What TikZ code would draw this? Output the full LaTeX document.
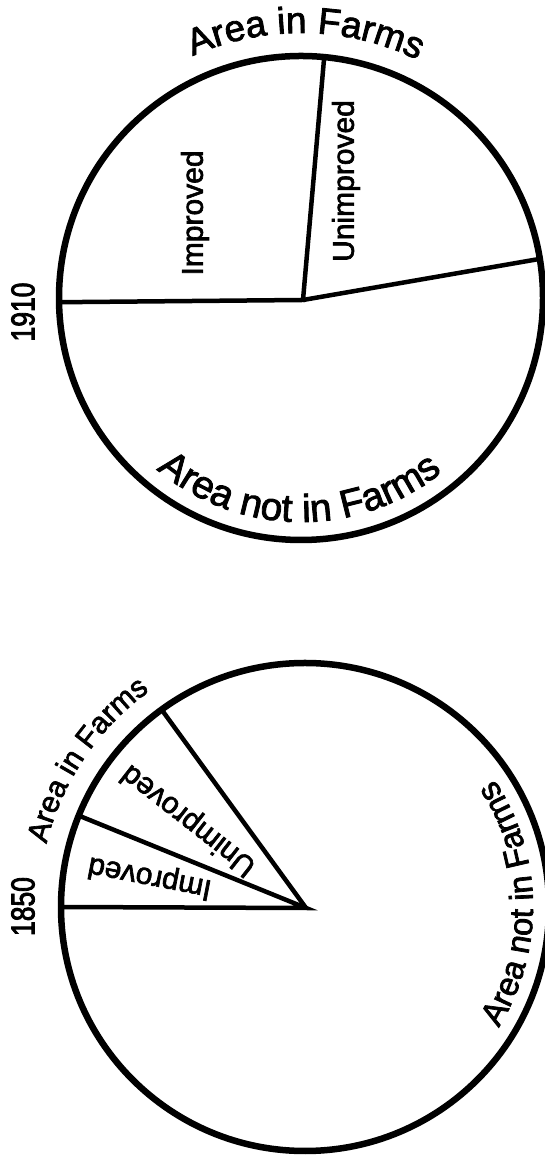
\documentclass[tikz,border=0pt]{standalone}
\usepackage{fontspec}
\setmainfont[FakeBold=2.2]{Liberation Sans}
\newfontfamily\yearfont[FakeStretch=0.8,FakeBold=2.6]{Liberation Sans}
\usetikzlibrary{decorations.text}
\begin{document}
\begin{tikzpicture}[x=1pt,y=1pt,
  rim/.style={line width=6.5pt},
  spoke/.style={line width=4.5pt},
  lab/.style={font=\fontsize{30}{30}\selectfont, inner sep=0pt},
  yearlab/.style={font=\yearfont\fontsize{33}{33}\selectfont, inner sep=0pt, rotate=90},
]
\useasboundingbox (0,0) rectangle (545,1159);
% ---------- 1910 ----------
\coordinate (C1) at (301,861);
\draw[rim] (C1) circle[radius=242];
\coordinate (S1) at (303,859);
\path (C1) ++(181:242) coordinate (L1);
\path (C1) ++(84.5:242) coordinate (T1);
\path (C1) ++(9.3:242) coordinate (R1);
\draw[spoke] (L1) -- (S1) -- (T1);
\draw[spoke] (S1) -- (R1);
\node[lab, rotate=90] (imp1) at (195,946) {Improved};
\node[lab, rotate=90] (unimp1) at (346,978) {Unimproved};
\node[yearlab] (y1910) at (23,847) {1910};
\path[decorate, decoration={text along path, text align=center,
  text={|\fontsize{37}{37}\selectfont|Area in Farms}}]
  (C1) ++(140:265) arc[start angle=140, end angle=38, radius=265];
\path[decorate, decoration={text along path, text align=center,
  text={|\fontsize{39}{39}\selectfont|Area not in Farms}}]
  (C1) ++(205:224) arc[start angle=205, end angle=334, radius=224];
% ---------- 1850 ----------
\coordinate (C2) at (305,252);
\draw[rim] (C2) circle[radius=244];
\coordinate (S2) at (306,251);
\path (C2) ++(180:244) coordinate (L2);
\path (C2) ++(158:244) coordinate (M2);
\path (C2) ++(126:244) coordinate (U2);
\draw[spoke] (L2) -- (S2) -- (M2);
\draw[spoke] (S2) -- (U2);
\path (C2) ++(169:158) node[lab, rotate=169] (imp2) {Improved};
\path (C2) ++(143:145) node[lab, rotate=142] (unimp2) {Unimproved};
\node[yearlab] (y1850) at (23,252.5) {1850};
\path[decorate, decoration={text along path, text align=center,
  text={|\fontsize{30}{30}\selectfont|Area in Farms}}]
  (C2) ++(190:266) arc[start angle=190, end angle=102, radius=266];
\path[decorate, decoration={text along path, text align=center,
  text={|\fontsize{33}{33}\selectfont|Area not in Farms}}]
  (C2) ++(-44:228) arc[start angle=-44, end angle=46, radius=228];
\end{tikzpicture}
\end{document}
